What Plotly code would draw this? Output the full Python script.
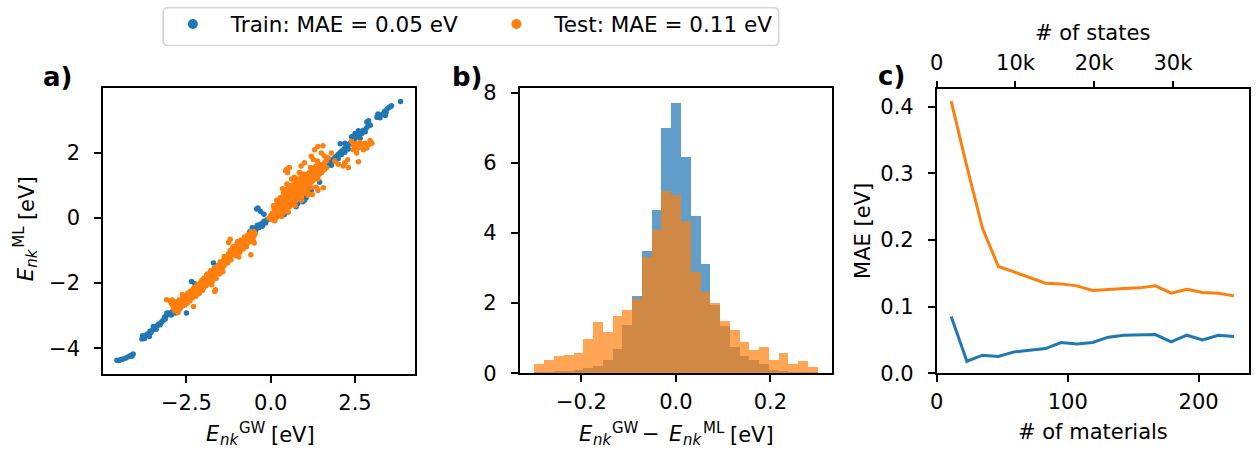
import plotly.graph_objects as go
import numpy as np

# Target picture size and how the photographed page maps to it vertically
W, H = 1256, 452
OFF, SCALE = 7.5, 0.958
FW = W
FH = int(round((H - OFF) / SCALE))  # 464
BLUE = '#1f77b4'
ORANGE = '#ff7f0e'
FONT = 'DejaVu Sans'
FS = 21

# ---------------- Panel a data: (E_GW, E_ML) ----------------
train_pts = [
    (-4.56, -4.37), (-4.50, -4.38), (-4.44, -4.35), (-4.38, -4.33), (-4.30, -4.30), (-4.22, -4.26),
    (-4.15, -4.22), (-4.08, -4.18), (-4.12, -4.25),
    (-3.82, -3.72), (-3.78, -3.66), (-3.74, -3.70), (-3.70, -3.60), (-3.66, -3.56), (-3.62, -3.58),
    (-3.58, -3.48), (-3.55, -3.52), (-3.50, -3.43), (-3.46, -3.40), (-3.42, -3.36), (-3.40, -3.42),
    (-3.36, -3.30), (-3.32, -3.26), (-3.28, -3.28), (-3.24, -3.20), (-3.20, -3.15), (-3.80, -3.62),
    (-3.60, -3.64), (-3.48, -3.33), (-3.15, -3.05), (-3.10, -3.00), (-3.05, -2.96), (-3.00, -2.92),
    (-2.95, -2.98), (-2.90, -2.86), (-2.85, -2.84), (-2.82, -2.92), (-3.08, -2.92), (-3.13, -3.10),
    (-2.70, -2.66), (-2.60, -2.50), (-2.50, -2.92), (-2.40, -2.35), (-2.30, -2.25), (-2.35, -1.95),
    (-2.25, -2.02), (-2.20, -2.10), (-2.10, -2.02), (-2.00, -1.95), (-1.90, -1.88), (-1.80, -1.72),
    (-1.70, -1.38), (-1.60, -1.55), (-1.55, -1.45), (-1.40, -1.35), (-1.30, -1.22), (-1.20, -1.15),
    (-1.10, -1.02), (-1.00, -0.95), (-0.90, -0.85), (-0.80, -0.72), (-0.70, -0.66), (-0.60, -0.55),
    (-0.50, -0.48), (-0.45, -0.38), (-0.44, -0.30), (-0.40, -0.22), (-0.35, -0.30), (-0.30, -0.18),
    (-0.25, -0.25), (-0.20, -0.10), (-0.15, -0.15), (-0.10, -0.05), (-0.05, -0.02), (-0.42, 0.28),
    (-0.30, 0.20), (-0.38, 0.31), (-0.20, 0.12), (0.02, 0.05), (-0.62, -0.42), (-0.55, -0.30),
    (0.10, 0.02), (0.30, 0.20), (0.50, 0.40), (0.70, 0.60), (0.90, 0.85), (1.10, 1.00), (1.30, 1.25),
    (1.50, 1.40), (1.60, 1.55), (0.40, 0.10), (0.80, 0.45), (0.95, 0.50), (1.05, 0.62), (1.20, 0.85),
    (1.45, 1.10), (0.75, 0.35), (1.00, 0.55),
    (1.65, 1.55), (1.70, 1.62), (1.75, 1.70), (1.80, 1.72), (1.85, 1.80), (1.90, 1.85), (1.95, 1.90),
    (2.00, 1.95), (2.05, 2.00), (2.10, 2.05), (2.15, 2.10), (2.20, 2.15), (2.25, 2.20), (2.30, 2.25),
    (2.35, 2.30), (2.40, 2.35), (2.45, 2.40), (2.50, 2.45), (2.55, 2.52), (2.60, 2.55), (1.80, 1.62),
    (1.90, 1.75), (2.00, 1.82), (2.10, 1.95), (2.20, 2.02), (2.30, 2.12), (1.70, 1.75), (2.06, 2.28),
    (2.40, 2.50), (2.50, 2.60), (2.60, 2.68), (2.70, 2.60), (2.75, 2.70), (2.80, 2.65), (2.85, 2.78),
    (2.90, 2.90), (2.95, 2.85), (2.90, 2.99), (2.85, 2.95), (2.65, 2.45), (2.45, 2.25), (2.20, 2.30),
    (3.15, 3.10), (3.18, 3.20), (3.22, 3.15), (3.24, 3.08), (3.32, 3.20), (3.38, 3.28), (3.42, 3.25),
    (3.45, 3.35), (3.50, 3.40), (3.55, 3.42), (3.58, 3.45), (3.40, 3.15), (3.85, 3.58),
]

test_pts = [
    (-3.09, -2.51), (-2.98, -2.55), (-2.95, -2.62), (-2.90, -2.70), (-2.85, -2.62), (-2.85, -2.85),
    (-2.80, -2.75), (-2.75, -2.60), (-2.75, -2.90), (-2.70, -2.68), (-2.70, -2.80), (-2.65, -2.55),
    (-2.65, -2.72), (-2.60, -2.60), (-2.60, -2.45), (-2.55, -2.50), (-2.55, -2.68), (-2.50, -2.40),
    (-2.50, -2.55), (-2.45, -2.48), (-2.45, -2.30), (-2.40, -2.42), (-2.40, -2.55), (-2.35, -2.30),
    (-2.35, -2.45), (-2.30, -2.20), (-2.30, -2.38), (-2.29, -2.72), (-2.25, -2.25), (-2.20, -2.12),
    (-2.20, -2.30), (-2.15, -2.18), (-2.10, -2.05), (-2.10, -2.25), (-2.05, -2.10), (-2.00, -1.98),
    (-2.00, -2.15), (-2.92, -2.52), (-2.62, -2.35), (-2.48, -2.62),
    (-2.88, -2.78), (-2.82, -2.58), (-2.78, -2.68), (-2.72, -2.52), (-2.68, -2.62), (-2.62, -2.70),
    (-2.58, -2.40), (-2.52, -2.62), (-2.48, -2.35), (-2.42, -2.50), (-2.38, -2.25), (-2.32, -2.45),
    (-2.28, -2.15), (-2.22, -2.40), (-2.18, -2.05), (-2.12, -2.32), (-2.08, -2.00), (-2.02, -2.22),
    (-1.98, -1.85), (-1.92, -2.08), (-1.88, -1.72), (-1.82, -2.02), (-1.78, -1.62), (-1.72, -1.92),
    (-1.68, -1.55), (-1.62, -1.85), (-1.58, -1.48), (-1.52, -1.72), (-1.48, -1.42), (-1.42, -1.65),
    (-1.95, -1.90), (-1.90, -2.00), (-1.85, -1.80), (-1.80, -1.95), (-1.80, -1.70), (-1.75, -1.85),
    (-1.70, -1.65), (-1.70, -1.80), (-1.66, -2.26), (-1.64, -2.20), (-1.65, -1.60), (-1.60, -1.70),
    (-1.60, -1.52), (-1.55, -1.62), (-1.55, -1.45), (-1.50, -1.50), (-1.50, -1.35), (-1.45, -1.40),
    (-1.45, -1.60), (-1.40, -1.30), (-1.40, -1.48), (-1.90, -1.75), (-2.05, -1.92), (-1.75, -2.05),
    (-1.35, -1.25), (-1.35, -1.40), (-1.30, -1.20), (-1.30, -1.32), (-1.25, -1.10), (-1.25, -1.25),
    (-1.20, -1.15), (-1.20, -1.00), (-1.15, -1.10), (-1.10, -1.05), (-1.10, -0.95), (-1.05, -0.90),
    (-1.05, -1.15), (-1.00, -0.95), (-1.00, -0.80), (-0.95, -0.85), (-0.90, -0.80), (-0.90, -0.95),
    (-0.85, -0.75), (-0.80, -0.70), (-0.80, -0.85), (-0.75, -0.65), (-0.70, -0.60), (-0.70, -0.78),
    (-0.65, -0.55), (-0.60, -0.50), (-0.60, -0.65), (-0.55, -0.45), (-0.50, -0.42), (-0.50, -0.55),
    (-1.25, -0.75), (-1.20, -0.65), (-0.95, -1.20), (-0.59, -1.13), (-0.49, -0.77),
    (-1.38, -1.18), (-1.28, -1.38), (-1.18, -1.28), (-1.12, -0.88), (-1.02, -1.05), (-0.98, -0.72),
    (-0.92, -1.05), (-0.88, -0.68), (-0.82, -0.95), (-0.78, -0.58), (-0.72, -0.88), (-0.68, -0.52),
    (-0.62, -0.72), (-0.58, -0.42), (-0.52, -0.68), (-0.46, -0.48),
    (-0.05, 0.00), (0.00, -0.02), (0.00, 0.08), (0.05, 0.00), (0.05, 0.15), (0.05, -0.05),
    (0.10, 0.05), (0.10, 0.20), (0.10, 0.30), (0.15, 0.10), (0.15, 0.25), (0.15, 0.00), (0.15, 0.40),
    (0.20, 0.12), (0.20, 0.30), (0.20, 0.45), (0.20, 0.05), (0.25, 0.20), (0.25, 0.35), (0.25, 0.50),
    (0.25, 0.10), (0.30, 0.18), (0.30, 0.32), (0.30, 0.55), (0.30, 0.42), (0.35, 0.25), (0.35, 0.40),
    (0.35, 0.60), (0.35, 0.15), (0.40, 0.30), (0.40, 0.48), (0.40, 0.65), (0.40, 0.22), (0.40, 0.80),
    (0.45, 0.35), (0.45, 0.50), (0.45, 0.70), (0.45, 0.28), (0.50, 0.40), (0.50, 0.55), (0.50, 0.75),
    (0.50, 0.30), (0.50, 0.90), (0.55, 0.42), (0.55, 0.60), (0.55, 0.80), (0.55, 0.35), (0.60, 0.50),
    (0.60, 0.65), (0.60, 0.85), (0.60, 0.40), (0.60, 1.00), (0.65, 0.52), (0.65, 0.70), (0.65, 0.90),
    (0.65, 0.45), (0.70, 0.60), (0.70, 0.75), (0.70, 0.95), (0.70, 0.50), (0.70, 1.10), (0.75, 0.62),
    (0.75, 0.80), (0.75, 1.00), (0.75, 0.55), (0.80, 0.70), (0.80, 0.85), (0.80, 1.05), (0.80, 0.60),
    (0.80, 1.20), (0.85, 0.75), (0.85, 0.90), (0.85, 1.10), (0.85, 0.65), (0.90, 0.80), (0.90, 0.95),
    (0.90, 1.15), (0.90, 0.70), (0.90, 1.30), (0.95, 0.85), (0.95, 1.00), (0.95, 1.20), (0.95, 0.75),
    (1.00, 0.90), (1.00, 1.05), (1.00, 1.25), (1.00, 0.80), (1.05, 0.95), (1.05, 1.10), (1.05, 1.30),
    (1.05, 0.85), (1.10, 1.00), (1.10, 1.15), (1.10, 1.35), (1.10, 0.90), (1.15, 1.05), (1.15, 1.20),
    (1.15, 1.40), (1.20, 1.10), (1.20, 1.25), (1.20, 1.45), (1.20, 0.95), (1.25, 1.15), (1.25, 1.30),
    (1.25, 1.50), (1.30, 1.20), (1.30, 1.35), (1.30, 1.55), (1.35, 1.25), (1.35, 1.40), (1.35, 1.60),
    (1.40, 1.30), (1.40, 1.45), (1.40, 1.20), (1.45, 1.35), (1.45, 1.50), (1.45, 1.65), (1.50, 1.40),
    (1.50, 1.55), (1.55, 1.45), (1.55, 1.60), (1.60, 1.50), (1.60, 1.70), (1.65, 1.55), (1.65, 1.75),
    (0.12, -0.08), (0.32, 0.05), (0.52, 0.18), (0.72, 0.38), (0.92, 0.55), (1.12, 0.75), (0.28, 0.62),
    (0.38, 0.75), (0.58, 0.95), (0.78, 1.15), (0.98, 1.35), (1.18, 1.55), (1.38, 1.75), (0.62, 1.20),
    (0.70, 1.25), (0.35, 0.90), (0.18, 0.55), (0.08, 0.38), (0.48, 1.05), (0.85, 1.40),
    (0.44, 1.45), (0.50, 1.40), (0.55, 1.55), (0.48, 1.50), (1.26, 1.80), (1.30, 2.10), (1.40, 2.20),
    (1.50, 2.00), (1.55, 2.22), (1.20, 1.90), (1.00, 1.70), (0.90, 1.60), (1.60, 1.90), (1.70, 1.85),
    (1.80, 2.00), (1.90, 1.75), (2.00, 1.65), (2.15, 1.60), (2.20, 1.70), (2.30, 1.55), (2.28, 1.79),
    (2.60, 1.73), (2.45, 2.10), (2.50, 2.20), (2.60, 2.15), (2.70, 2.25), (2.80, 2.30), (2.90, 2.25),
    (3.00, 2.30), (2.75, 2.10), (2.40, 2.35), (2.55, 2.00), (1.23, 0.72), (1.40, 0.85), (1.56, 0.93),
    (1.10, 0.70), (1.35, 0.95), (2.45, 2.25), (2.55, 2.30), (2.65, 2.32), (2.85, 2.15), (2.95, 2.38),
]
train_x = [p[0] for p in train_pts]
train_y = [p[1] for p in train_pts]
test_x = [p[0] for p in test_pts]
test_y = [p[1] for p in test_pts]

# ---------------- Panel b data: density histograms (29 bins on [-0.3, 0.3]) ----------------
HIST_RANGE = (-0.3, 0.3)
N_BINS = 29
train_density = [0.02, 0.05, 0.07, 0.07, 0.10, 0.15, 0.21, 0.38, 0.70, 1.38, 2.21, 3.50, 4.67, 7.01,
                 7.70, 6.18, 4.50, 3.12, 1.95, 1.35, 0.76, 0.48, 0.38, 0.28, 0.10, 0.07, 0.05, 0.04, 0.02]
test_density = [0.28, 0.38, 0.50, 0.52, 0.58, 0.98, 1.47, 1.18, 1.64, 1.81, 2.11, 3.32, 4.10, 5.20,
                5.08, 4.35, 2.90, 2.33, 2.01, 1.50, 1.24, 0.90, 0.67, 0.75, 0.38, 0.58, 0.28, 0.35, 0.18]
edges = np.linspace(HIST_RANGE[0], HIST_RANGE[1], N_BINS + 1)
centers = (edges[:-1] + edges[1:]) / 2
bw = edges[1] - edges[0]

# ---------------- Panel c data ----------------
n_materials = [11, 23, 35, 47, 59, 71, 83, 95, 107, 119, 131, 143, 155, 167, 179, 191, 203, 215, 227]
mae_train = [0.085, 0.018, 0.027, 0.025, 0.032, 0.034, 0.037, 0.046, 0.044, 0.046, 0.054, 0.057,
             0.057, 0.058, 0.047, 0.057, 0.050, 0.057, 0.055]
mae_test = [0.408, 0.310, 0.217, 0.160, 0.152, 0.143, 0.135, 0.134, 0.131, 0.124, 0.126, 0.127,
            0.128, 0.131, 0.120, 0.126, 0.121, 0.120, 0.116]
states_ticks = [0, 10000, 20000, 30000]
states_ticktext = ['0', '10k', '20k', '30k']
STATES_MAX = 39650


def X(px):
    return min(1.0, max(0.0, px / FW))


def Y(py):
    return min(1.0, max(0.0, 1 - ((py - OFF) / SCALE) / FH))


fig = go.Figure()

# Panel a
fig.add_trace(go.Scatter(x=train_x, y=train_y, mode='markers', marker=dict(size=5.5, color=BLUE),
                         showlegend=False, xaxis='x', yaxis='y'))
fig.add_trace(go.Scatter(x=test_x, y=test_y, mode='markers', marker=dict(size=5.5, color=ORANGE),
                         showlegend=False, xaxis='x', yaxis='y'))
fig.add_trace(go.Scatter(x=[None], y=[None], mode='markers', marker=dict(size=10, color=BLUE),
                         name='Train: MAE = 0.05 eV', xaxis='x', yaxis='y', legend='legend'))
fig.add_trace(go.Scatter(x=[None], y=[None], mode='markers', marker=dict(size=10, color=ORANGE),
                         name='Test: MAE = 0.11 eV', xaxis='x', yaxis='y', legend='legend2'))

# Panel b
fig.add_trace(go.Bar(x=centers, y=train_density, width=bw, marker=dict(color=BLUE, line=dict(width=0)),
                     opacity=0.7, showlegend=False, xaxis='x2', yaxis='y2'))
fig.add_trace(go.Bar(x=centers, y=test_density, width=bw, marker=dict(color=ORANGE, line=dict(width=0)),
                     opacity=0.7, showlegend=False, xaxis='x2', yaxis='y2'))

# Panel c
fig.add_trace(go.Scatter(x=n_materials, y=mae_train, mode='lines', line=dict(color=BLUE, width=3),
                         showlegend=False, xaxis='x3', yaxis='y3'))
fig.add_trace(go.Scatter(x=n_materials, y=mae_test, mode='lines', line=dict(color=ORANGE, width=3),
                         showlegend=False, xaxis='x3', yaxis='y3'))
# helper (invisible) trace so the top "# of states" axis is drawn
fig.add_trace(go.Scatter(x=states_ticks, y=[None] * len(states_ticks), mode='markers', showlegend=False,
                         hoverinfo='skip', xaxis='x4', yaxis='y3'))


def ax(standoff, **kw):
    base = dict(showline=True, mirror=True, linecolor='black', linewidth=1.8, ticks='outside',
                ticklen=7, tickwidth=1.6, tickcolor='black', showgrid=False, zeroline=False,
                tickfont=dict(family=FONT, size=FS, color='black'), ticklabelstandoff=standoff)
    base.update(kw)
    return base


leg = dict(orientation='h', yanchor='middle', xanchor='left', borderwidth=0, bgcolor='rgba(0,0,0,0)',
           font=dict(family=FONT, size=21.5, color='black'), itemwidth=66)

fig.update_layout(
    width=FW, height=FH, margin=dict(l=0, r=0, t=0, b=0), autosize=False,
    paper_bgcolor='white', plot_bgcolor='white', barmode='overlay', bargap=0,
    font=dict(family=FONT, size=FS, color='black'),
    xaxis=ax(2, domain=[X(96.7), X(410)], range=[-4.97, 4.27], tickvals=[-2.5, 0, 2.5], tickformat='.1f', anchor='y'),
    yaxis=ax(10, domain=[Y(374), Y(88.3)], range=[-4.79, 4.0], tickvals=[-4, -2, 0, 2], anchor='x'),
    xaxis2=ax(2, domain=[X(515.7), X(830)], range=[-0.3305, 0.3312], tickvals=[-0.2, 0, 0.2], tickformat='.1f', anchor='y2'),
    yaxis2=ax(10, domain=[Y(373.3), Y(88.3)], range=[0, 8.14], tickvals=[0, 2, 4, 6, 8], anchor='x2'),
    xaxis3=ax(2, domain=[X(935), X(1248.5)], range=[0, 238.1], tickvals=[0, 100, 200], anchor='y3'),
    yaxis3=ax(10, domain=[Y(373.3), Y(89.3)], range=[0, 0.4265], tickvals=[0, 0.1, 0.2, 0.3, 0.4], tickformat='.1f', anchor='x3'),
    xaxis4=ax(2, overlaying='x3', side='top', anchor='y3', range=[0, STATES_MAX * 238.1 / 238.3], tickvals=states_ticks,
              ticktext=states_ticktext, showline=False, mirror=False),
    legend=dict(leg, x=X(187.7 - 39), y=Y(24.5)),
    legend2=dict(leg, x=X(513 - 39), y=Y(24.5)),
)

# legend frame (rounded rectangle)
x0, x1, y0, y1, r = 157, 776, 8.3, 46, 5
path = (f"M {X(x0 + r)} {Y(y0)} L {X(x1 - r)} {Y(y0)} Q {X(x1)} {Y(y0)} {X(x1)} {Y(y0 + r)} "
        f"L {X(x1)} {Y(y1 - r)} Q {X(x1)} {Y(y1)} {X(x1 - r)} {Y(y1)} L {X(x0 + r)} {Y(y1)} "
        f"Q {X(x0)} {Y(y1)} {X(x0)} {Y(y1 - r)} L {X(x0)} {Y(y0 + r)} Q {X(x0)} {Y(y0)} {X(x0 + r)} {Y(y0)} Z")
fig.add_shape(type='path', path=path, xref='paper', yref='paper', line=dict(color='#d5d5d5', width=1.6),
              fillcolor='white', layer='below')


def ann(text, px, py, size=FS, angle=0, xanchor='center'):
    fig.add_annotation(text=text, x=X(px), y=Y(py), xref='paper', yref='paper',
                       xanchor=xanchor, yanchor='middle', showarrow=False, textangle=angle,
                       font=dict(family=FONT, size=size, color='black'))


SUB = 15
# panel labels
ann('<b>a)</b>', 50.5, 77.5, 26)
ann('<b>b)</b>', 463, 77.5, 26)
ann('<b>c)</b>', 889.5, 76, 26)

# Panel a x label  E_nk^GW [eV]  (pieces laid side by side)
ann('<i>E</i>', 198, 434, FS, 0, 'left')
ann('<i>nk</i>', 212, 440.5, SUB, 0, 'left')
ann('GW', 231.5, 428, SUB, 0, 'left')
ann('[eV]', 263, 435, FS, 0, 'left')

# Panel a y label (rotated, reading upward)
ann('<i>E</i>', 18.5, 274, FS, -90)
ann('<i>nk</i>', 25.5, 257.5, SUB, -90)
ann('ML', 12, 237, SUB, -90)
ann('[eV]', 19.5, 198, FS, -90)

# Panel b x label  E_nk^GW − E_nk^ML [eV]
ann('<i>E</i>', 573, 434, FS, 0, 'left')
ann('<i>nk</i>', 587, 440.5, SUB, 0, 'left')
ann('GW', 606.5, 428, SUB, 0, 'left')
ann('\u2212', 648, 434)
ann('<i>E</i>', 664, 434, FS, 0, 'left')
ann('<i>nk</i>', 678, 440.5, SUB, 0, 'left')
ann('ML', 697.5, 428, SUB, 0, 'left')
ann('[eV]', 725, 435, FS, 0, 'left')

# Panel c labels
ann('MAE [eV]', 861, 231, FS, -90)
ann('# of materials', 1092, 432, FS)
ann('# of states', 1092, 33, FS)

fig.write_html('out.html', config={'displayModeBar': False},
               post_script="document.body.style.margin='0px';")
